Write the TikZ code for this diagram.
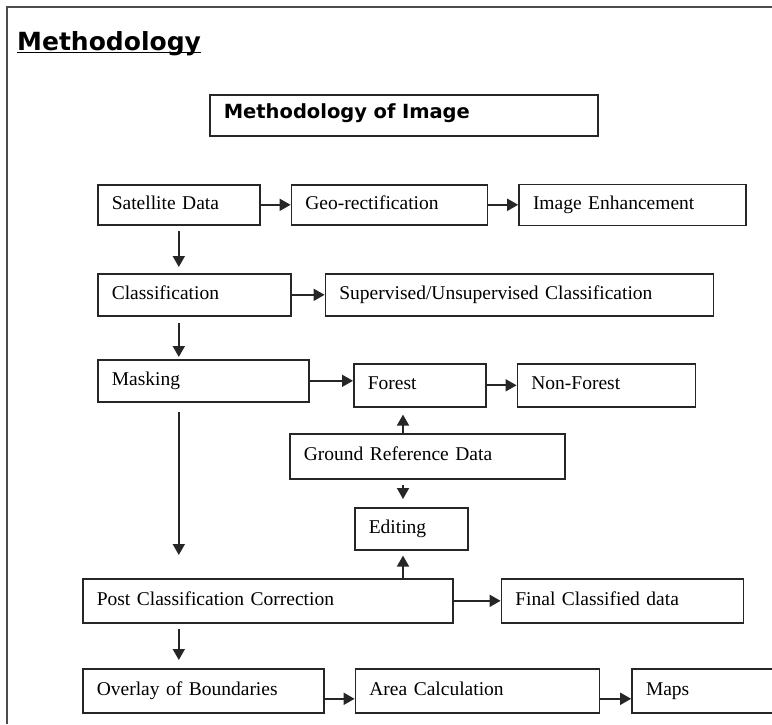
\documentclass[tikz,border=0pt]{standalone}
\usepackage{fontspec}
\setmainfont{Liberation Serif}
\newfontfamily\headfont{DejaVu Sans}
\usetikzlibrary{positioning, calc, arrows.meta}
\tikzstyle{Box} = [
draw=black!85, line width=1.6pt,
inner xsep=14pt, inner ysep=0pt,
align=left, text=black,
font=\fontsize{19.5}{22}\selectfont,
text height=13pt, text depth=4pt]
\tikzstyle{Arrow} = [
line width=1.8pt, draw=black!85,
-{Triangle[length=11pt, width=12pt]}]

\begin{document}
\begin{tikzpicture}[x=1pt, y=-1pt]
    \useasboundingbox (0,0) rectangle (772,724);
    \draw[line width=2pt, black!70] (7,724) -- (7,7) -- (772,7);
    % heading
    \node (ttl) [anchor=base west, inner sep=0pt,
        font=\headfont\bfseries\fontsize{25}{30}\selectfont] at (17,50) {Methodology};
    \draw[line width=1.8pt] ([yshift=-2.5pt]ttl.base west) -- ([yshift=-2.5pt]ttl.base east);
    \node (head) [Box, anchor=north west, text width=360pt, minimum height=41pt,
        font=\headfont\bfseries\fontsize{19.5}{22}\selectfont,
        text height=14pt, text depth=8pt] at (209,94) {Methodology of Image};
    % boxes
    \node (sat) [Box, anchor=north west, text width=134pt, minimum height=40pt] at (97,184) {Satellite Data};
    \node [Box, right=30pt of sat, text width=168pt, minimum height=40pt] (geo) {Geo-rectification};
    \node [Box, right=30pt of geo, text width=199pt, minimum height=41pt] (enh) {Image Enhancement};
    \node (cls) [Box, anchor=north west, text width=165pt, minimum height=42pt] at (97,273) {Classification};
    \node [Box, right=33pt of cls, text width=360pt, minimum height=42pt] (sup) {Supervised/Unsupervised Classification};
    \node (msk) [Box, anchor=north west, text width=183pt, minimum height=42pt] at (97,359) {Masking};
    \node (fst) [Box, anchor=north west, text width=104pt, minimum height=43pt] at (353,363) {Forest};
    \node [Box, right=30pt of fst, text width=150pt, minimum height=43pt] (nfs) {Non-Forest};
    \node (grd) [Box, anchor=north west, text width=247pt, minimum height=45pt] at (289,433) {Ground Reference Data};
    \node (edt) [Box, anchor=north west, text width=85pt, minimum height=42pt] at (354,507) {Editing};
    \node (pcc) [Box, anchor=north west, text width=342pt, minimum height=44pt] at (82,578) {Post Classification Correction};
    \node [Box, right=47pt of pcc, text width=214pt, minimum height=44pt] (fin) {Final Classified data};
    \node (ovl) [Box, anchor=north west, text width=213pt, minimum height=44pt] at (82,668) {Overlay of Boundaries};
    \node [Box, right=30pt of ovl, text width=216pt, minimum height=44pt] (are) {Area Calculation};
    \node [Box, right=31pt of are, text width=134pt, minimum height=44pt] (map) {Maps};
    \coordinate (vx) at (403,0);
    % arrows
    \draw[Arrow] (sat.east) -- (geo.west);
    \draw[Arrow] (geo.east) -- (enh.west |- geo.east);
    \draw[Arrow] (cls.east) -- (sup.west);
    \draw[Arrow] (msk.east) -- (msk.east -| fst.west);
    \draw[Arrow] (fst.east) -- (nfs.west);
    \draw[Arrow] (pcc.east) -- (fin.west);
    \draw[Arrow] ([yshift=-8pt]ovl.east) -- ([yshift=-8pt]are.west);
    \draw[Arrow] ([yshift=-8pt]are.east) -- ([yshift=-8pt]map.west);
    \draw[Arrow, shorten <=5pt, shorten >=6pt] (sat.south) -- (sat.south |- cls.north);
    \draw[Arrow, shorten <=6pt, shorten >=2pt] (sat.south |- cls.south) -- (sat.south |- msk.north);
    \draw[Arrow, shorten <=9pt, shorten >=23pt] (sat.south |- msk.south) -- (sat.south |- pcc.north);
    \draw[Arrow, shorten <=5pt, shorten >=8pt] (sat.south |- pcc.south) -- (sat.south |- ovl.north);
    \draw[Arrow, shorten >=7pt] (vx |- grd.north) -- (vx |- fst.south);
    \draw[Arrow, shorten <=5pt, shorten >=8pt] (vx |- grd.south) -- (vx |- edt.north);
    \draw[Arrow, shorten >=5pt] (vx |- pcc.north) -- (vx |- edt.south);
\end{tikzpicture}
\end{document}
